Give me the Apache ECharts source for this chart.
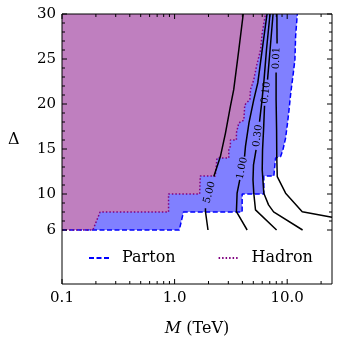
<!DOCTYPE html>
<html>
<head>
<meta charset="utf-8">
<script src="https://cdn.jsdelivr.net/npm/echarts@6/dist/echarts.min.js"></script>
<style>
html,body{margin:0;padding:0;background:#fff;}
#chart{width:339px;height:346px;}
</style>
</head>
<body>
<div id="chart"></div>
<script>
// ---- data (M in TeV, Delta) ----
const xTickLabels = [0.1, 1, 10];
const xMinorTicks = [0.2,0.3,0.4,0.5,0.6,0.7,0.8,0.9,2,3,4,5,6,7,8,9,20];
const yTickLabels = [6, 10, 15, 20, 25, 30];
const yMinorTicks = [7,8,9,11,12,13,14,16,17,18,19,21,22,23,24,26,27,28,29];

const partonEdge = [[0.1,6],[1.10,6],[1.20,8],[3.98,8],[3.98,10],[6.20,10],[6.20,12],[7.61,12],[7.88,14],[8.74,14.16],[9.16,14.91],[9.68,16.21],[10.02,17.69],[10.35,19.18],[10.72,21.04],[10.94,21.96],[11.24,23.07],[11.71,24.93],[11.88,27.53],[12.30,30]];
const hadronEdge = [[0.1,6],[0.188,6],[0.218,8],[0.884,8],[0.884,10],[1.67,10],[1.69,12],[2.30,12],[2.38,14],[3.03,14],[3.03,15],[3.13,15.3],[3.13,16],[3.54,16],[3.54,16.8],[3.72,17.9],[4.12,18.2],[4.20,19.9],[4.66,20.5],[4.72,21.6],[5.05,22.7],[5.34,24.2],[5.80,26],[6.00,27.9],[6.42,30]];

const contourLevels = ['5.00', '1.00', '0.30', '0.10', '0.01'];
const contour500 = [[4.07,30],[3.72,26.05],[3.35,21.59],[3.13,19.73],[2.83,16.77],[2.55,14.16],[2.23,11.94],null,[1.88,8.42],[1.88,8.04],[1.98,6.0]];
const contour100 = [[6.62,30],[6.00,26.05],[5.48,22.34],[5.05,20.48],[4.58,17.92],[4.26,15.28],[4.18,14.16],null,[3.79,11.57],[3.59,10.09],[3.54,8.04],[4.41,6.0]];
const contour030 = [[7.04,30],[6.55,26.05],[6.23,22.71],[5.98,20.48],[5.68,18.03],null,[5.29,14.91],[5.02,13.24],[4.97,11.57],[5.05,10.09],[5.23,8.24],[8.05,6.0]];
const contour010 = [[7.49,30],[7.05,26.05],[6.69,22.71],null,[6.29,19.81],[6.17,17.14],[6.04,14.91],[6.00,12.68],[6.20,10.09],[6.83,8.79],[7.57,8.01],[13.7,6.0]];
const contour001 = [[8.10,30],[8.13,26.71],null,[7.97,23.49],[7.97,20.48],[8.05,17.14],[8.08,14.16],[8.16,11.94],[9.68,10.09],[13.6,8.04],[25,7.42]];
const contours = [contour500, contour100, contour030, contour010, contour001];

// ---- chart ----
const FONT = "'DejaVu Serif', serif";
const X_MIN = 0.1, X_MAX = 25, Y_MIN = 0, Y_MAX = 30;

function splitSegments(arr) {
  const segs = [[]];
  arr.forEach(p => { if (p === null) segs.push([]); else segs[segs.length - 1].push(p); });
  return segs;
}

function polygonSeries(edge, color) {
  return {
    type: 'custom', silent: true, z: 1,
    data: [[1, 10]],
    renderItem: function (params, api) {
      const pts = edge.concat([[X_MIN, Y_MAX]]).map(p => api.coord(p));
      return { type: 'polygon', shape: { points: pts }, style: { fill: color } };
    }
  };
}

const series = [];
series.push(polygonSeries(partonEdge, '#8080ff'));
series.push(polygonSeries(hadronEdge, '#bf7fbf'));
series.push({
  type: 'line', name: 'Parton', data: partonEdge, symbol: 'none', silent: true, z: 3,
  lineStyle: { color: '#0000ff', width: 1.5, type: [5, 2.5] }
});
series.push({
  type: 'line', name: 'Hadron', data: hadronEdge, symbol: 'none', silent: true, z: 3,
  lineStyle: { color: '#800080', width: 1.5, type: [1.5, 2] }
});
contours.forEach(c => {
  splitSegments(c).forEach(seg => {
    series.push({
      type: 'line', data: seg, symbol: 'none', silent: true, z: 4,
      lineStyle: { color: '#000', width: 1.5 }
    });
  });
});
// inline contour labels, placed in the gap of each contour
series.push({
  type: 'custom', silent: true, z: 5,
  data: contours.map((c, i) => [1, i]),
  renderItem: function (params, api) {
    const c = contours[params.dataIndex];
    const k = c.indexOf(null);
    const U = api.coord(c[k - 1]);
    const L = api.coord(c[k + 1]);
    let ang = Math.atan2(-(U[1] - L[1]), U[0] - L[0]);
    if (ang > Math.PI / 2) ang -= Math.PI;
    if (ang < -Math.PI / 2) ang += Math.PI;
    return {
      type: 'text', x: (U[0] + L[0]) / 2, y: (U[1] + L[1]) / 2, rotation: ang,
      style: { text: contourLevels[params.dataIndex], font: '10px ' + FONT, fill: '#000', align: 'center', verticalAlign: 'middle' }
    };
  }
});
// ticks (inward, all four sides)
function tickSeries(values, isX, len) {
  return {
    type: 'custom', silent: true, z: 9,
    data: values.map(v => isX ? [v, 10] : [1, v]),
    renderItem: function (params, api) {
      const st = { stroke: '#000', lineWidth: 1 };
      if (isX) {
        const v = api.value(0);
        const b = api.coord([v, Y_MIN]), t = api.coord([v, Y_MAX]);
        return { type: 'group', children: [
          { type: 'line', shape: { x1: b[0], y1: b[1], x2: b[0], y2: b[1] - len }, style: st },
          { type: 'line', shape: { x1: t[0], y1: t[1], x2: t[0], y2: t[1] + len }, style: st }
        ]};
      } else {
        const v = api.value(1);
        const l = api.coord([X_MIN, v]), r = api.coord([X_MAX, v]);
        return { type: 'group', children: [
          { type: 'line', shape: { x1: l[0], y1: l[1], x2: l[0] + len, y2: l[1] }, style: st },
          { type: 'line', shape: { x1: r[0], y1: r[1], x2: r[0] - len, y2: r[1] }, style: st }
        ]};
      }
    }
  };
}
series.push(tickSeries(xTickLabels, true, 5));
series.push(tickSeries(xMinorTicks, true, 3));
series.push(tickSeries(yTickLabels, false, 5));
series.push(tickSeries(yMinorTicks, false, 3));

const chart = echarts.init(document.getElementById('chart'), null, { renderer: 'canvas' });
chart.setOption({
  animation: false,
  backgroundColor: '#fff',
  grid: { left: 62, right: 7, top: 14, bottom: 62, show: true, borderColor: '#000', borderWidth: 1, backgroundColor: 'transparent', z: 10 },
  legend: {
    data: ['Parton', 'Hadron'], left: 83, top: 245, itemWidth: 20, itemHeight: 12, itemGap: 42,
    selectedMode: false,
    itemStyle: { opacity: 0 },
    textStyle: { fontFamily: FONT, fontSize: 16, color: '#000', padding: [0, 0, 0, 8] }
  },
  graphic: [{
    type: 'text', left: 8, top: 132, silent: true,
    style: { text: 'Δ', font: '16px ' + FONT, fill: '#000' }
  }],
  xAxis: {
    type: 'log', logBase: 10, min: X_MIN, max: X_MAX,
    axisLine: { show: false }, axisTick: { show: false }, splitLine: { show: false },
    axisLabel: {
      fontFamily: FONT, fontSize: 15, color: '#000', margin: 7,
      formatter: function (v) {
        const hit = xTickLabels.find(t => Math.abs(Math.log10(v) - Math.log10(t)) < 1e-6);
        return hit === undefined ? '' : hit.toFixed(1);
      }
    },
    name: '{i|M} (TeV)', nameLocation: 'middle', nameGap: 37,
    nameTextStyle: { fontFamily: FONT, fontSize: 16, color: '#000',
      rich: { i: { fontFamily: FONT, fontSize: 16, fontStyle: 'italic', color: '#000' } } }
  },
  yAxis: {
    type: 'value', min: Y_MIN, max: Y_MAX, interval: 1,
    axisLine: { show: false }, axisTick: { show: false }, splitLine: { show: false },
    axisLabel: {
      fontFamily: FONT, fontSize: 15, color: '#000', margin: 6,
      formatter: function (v) { return yTickLabels.indexOf(v) >= 0 ? String(v) : ''; }
    }
  },
  series: series
});
</script>
</body>
</html>
